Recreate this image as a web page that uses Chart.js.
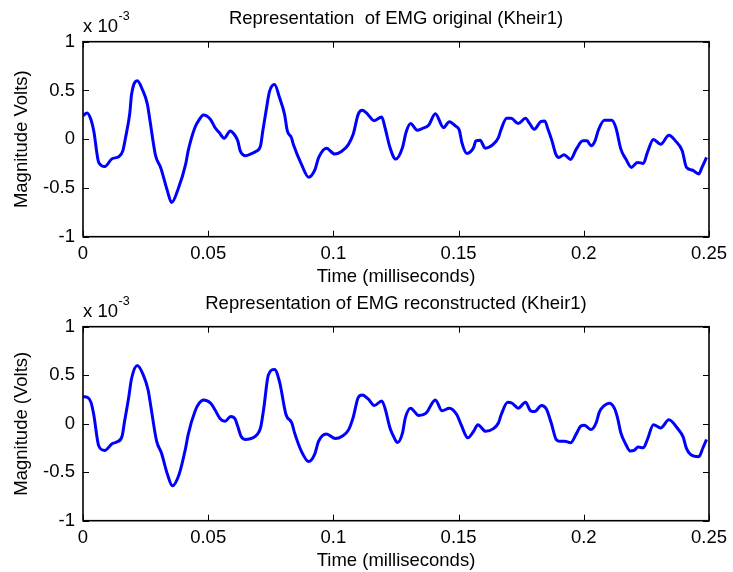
<!DOCTYPE html>
<html>
<head>
<meta charset="utf-8">
<script src="https://cdn.jsdelivr.net/npm/chart.js@4/dist/chart.umd.min.js"></script>
<style>
  body { margin: 0; background: #fff; }
  #wrap { position: relative; width: 733px; height: 572px; overflow: hidden; background: #fff; }
  canvas { position: absolute; left: 0; }
</style>
</head>
<body>
<div id="wrap">
  <canvas id="plotOrig" width="733" height="300" style="top:0"></canvas>
  <canvas id="plotRec" width="733" height="292" style="top:280px"></canvas>
</div>
<script>
// ===============================
//   DATA (values in units of 1e-3 V)
// ===============================
const xTicks = [0, 0.05, 0.1, 0.15, 0.2, 0.25];
const yTicks = [-1, -0.5, 0, 0.5, 1];

const timeOrig = [
  0, 0.0016, 0.0032, 0.0043, 0.0063, 0.0087, 0.0116, 0.0143, 0.0159, 0.017,
  0.0187, 0.0194, 0.0217, 0.0237, 0.0257, 0.0267, 0.029, 0.031, 0.0337, 0.0354,
  0.038, 0.041, 0.042, 0.0447, 0.0464, 0.0481, 0.051, 0.0527, 0.0544, 0.0564,
  0.0588, 0.0604, 0.0618, 0.0628, 0.065, 0.0671, 0.069, 0.0709, 0.0718, 0.0731,
  0.0745, 0.0765, 0.0785, 0.0805, 0.0816, 0.0832, 0.0842, 0.0872, 0.0901, 0.0925,
  0.0941, 0.0972, 0.1005, 0.1032, 0.1059, 0.1079, 0.1099, 0.1115, 0.1132, 0.1163,
  0.1193, 0.1206, 0.1226, 0.1249, 0.1276, 0.129, 0.1308, 0.1335, 0.1354, 0.1381,
  0.1407, 0.144, 0.1463, 0.1487, 0.1503, 0.1513, 0.1533, 0.156, 0.1569, 0.1586,
  0.1606, 0.1639, 0.1659, 0.167, 0.1692, 0.171, 0.1738, 0.1767, 0.1784, 0.1802,
  0.1828, 0.1844, 0.1857, 0.1873, 0.1888, 0.19, 0.1921, 0.1947, 0.197, 0.1996,
  0.2013, 0.2029, 0.2045, 0.2058, 0.2082, 0.2111, 0.2128, 0.2148, 0.2168, 0.219,
  0.2214, 0.2238, 0.2254, 0.2278, 0.2307, 0.234, 0.2366, 0.2393, 0.241, 0.2433,
  0.2459, 0.2472, 0.249
];
const emgOrig = [
  0.24, 0.27, 0.20, 0.085, -0.24, -0.28, -0.20, -0.18, -0.12, 0.017,
  0.27, 0.46, 0.60, 0.51, 0.36, 0.20, -0.17, -0.29, -0.53, -0.65,
  -0.51, -0.255, -0.12, 0.12, 0.20, 0.248, 0.20, 0.12, 0.068, 0.01,
  0.085, 0.05, -0.017, -0.12, -0.17, -0.15, -0.126, -0.068, 0.085, 0.29,
  0.49, 0.56, 0.425, 0.255, 0.085, 0.017, -0.068, -0.255, -0.39, -0.32,
  -0.19, -0.092, -0.153, -0.126, -0.058, 0.05, 0.255, 0.296, 0.27, 0.19,
  0.228, 0.12, -0.085, -0.204, -0.085, 0.068, 0.16, 0.092, 0.109, 0.146,
  0.262, 0.119, 0.18, 0.136, 0.092, -0.034, -0.146, -0.085, -0.017, -0.01,
  -0.092, -0.051, 0.017, 0.102, 0.214, 0.214, 0.16, 0.214, 0.16, 0.102,
  0.18, 0.187, 0.102, -0.017, -0.153, -0.187, -0.16, -0.207, -0.102, -0.017,
  -0.017, -0.068, -0.017, 0.092, 0.194, 0.194, 0.119, -0.102, -0.204, -0.289,
  -0.238, -0.248, -0.136, -0.003, -0.051, 0.041, -0.017, -0.119, -0.289, -0.316,
  -0.357, -0.289, -0.187
];

const timeRec = [
  0, 0.0019, 0.0032, 0.0043, 0.0063, 0.0087, 0.0116, 0.0136, 0.0156, 0.0166,
  0.0183, 0.0194, 0.0217, 0.0241, 0.026, 0.027, 0.0294, 0.0313, 0.0337, 0.0357,
  0.0384, 0.041, 0.042, 0.0447, 0.0464, 0.0481, 0.051, 0.0527, 0.0548, 0.0567,
  0.059, 0.0607, 0.0618, 0.0631, 0.065, 0.0678, 0.0695, 0.0709, 0.0722, 0.074,
  0.0765, 0.0785, 0.0811, 0.0834, 0.0845, 0.0872, 0.0901, 0.0925, 0.0941, 0.0972,
  0.1008, 0.1035, 0.1061, 0.1079, 0.1099, 0.1115, 0.1139, 0.1163, 0.1193, 0.1206,
  0.1226, 0.1243, 0.1256, 0.1276, 0.1287, 0.1308, 0.1341, 0.137, 0.1407, 0.1434,
  0.1463, 0.1493, 0.151, 0.1537, 0.156, 0.1577, 0.1608, 0.1639, 0.1659, 0.167,
  0.1696, 0.1714, 0.1738, 0.1767, 0.1788, 0.1804, 0.1831, 0.185, 0.187, 0.189,
  0.1904, 0.1923, 0.1947, 0.197, 0.1987, 0.2003, 0.2029, 0.2049, 0.2062, 0.2082,
  0.2102, 0.2122, 0.2135, 0.2148, 0.2168, 0.2185, 0.2201, 0.2217, 0.2238, 0.2254,
  0.2278, 0.2307, 0.234, 0.2373, 0.2397, 0.241, 0.2426, 0.2459, 0.2476, 0.249
];
const emgRec = [
  0.279, 0.27, 0.22, 0.092, -0.23, -0.276, -0.207, -0.187, -0.129, 0.024,
  0.279, 0.466, 0.60, 0.50, 0.347, 0.194, -0.18, -0.30, -0.52, -0.64,
  -0.52, -0.248, -0.112, 0.126, 0.211, 0.245, 0.211, 0.143, 0.051, 0.024,
  0.075, 0.051, -0.027, -0.129, -0.163, -0.146, -0.112, -0.044, 0.16, 0.50,
  0.56, 0.432, 0.092, 0.007, -0.095, -0.282, -0.39, -0.316, -0.18, -0.105,
  -0.153, -0.129, -0.061, 0.065, 0.269, 0.296, 0.255, 0.187, 0.235, 0.16,
  -0.044, -0.146, -0.195, -0.095, 0.058, 0.16, 0.085, 0.109, 0.245, 0.133,
  0.16, 0.092, -0.01, -0.146, -0.078, -0.01, -0.078, -0.051, 0.007, 0.092,
  0.221, 0.211, 0.16, 0.221, 0.133, 0.126, 0.187, 0.153, 0.007, -0.163,
  -0.18, -0.18, -0.197, -0.105, -0.027, -0.017, -0.061, 0.007, 0.119, 0.187,
  0.211, 0.16, 0.058, -0.095, -0.214, -0.282, -0.276, -0.241, -0.248, -0.163,
  -0.01, -0.044, 0.041, -0.044, -0.139, -0.255, -0.316, -0.34, -0.248, -0.163
];

// ===============================
//   MATLAB-like box, ticks, title
// ===============================
const FONT = "Liberation Sans, Arial, Helvetica, sans-serif";

const matlabAxes = {
  id: "matlabAxes",
  afterDraw(chart, args, opts) {
    const ctx = chart.ctx;
    const a = chart.chartArea;
    const xs = chart.scales.x, ys = chart.scales.y;
    const tl = 6;
    ctx.save();
    ctx.strokeStyle = "#000";
    ctx.lineWidth = 1;
    ctx.beginPath();
    xTicks.forEach(v => {
      const px = Math.round(xs.getPixelForValue(v)) + 0.5;
      ctx.moveTo(px, a.bottom); ctx.lineTo(px, a.bottom - tl);
      ctx.moveTo(px, a.top); ctx.lineTo(px, a.top + tl);
    });
    yTicks.forEach(v => {
      const py = Math.round(ys.getPixelForValue(v)) + 0.5;
      ctx.moveTo(a.left, py); ctx.lineTo(a.left + tl, py);
      ctx.moveTo(a.right, py); ctx.lineTo(a.right - tl, py);
    });
    ctx.stroke();
    ctx.lineWidth = 1.6;
    ctx.strokeRect(a.left, a.top, a.right - a.left, a.bottom - a.top);

    // title
    ctx.fillStyle = "#000";
    ctx.font = "18.5px " + FONT;
    ctx.textAlign = "center";
    ctx.textBaseline = "alphabetic";
    ctx.fillText(opts.title, (a.left + a.right) / 2, a.top - 18);

    // exponent label
    ctx.textAlign = "left";
    ctx.fillText("x 10", a.left, a.top - 10);
    const w = ctx.measureText("x 10").width;
    ctx.font = "12.5px " + FONT;
    ctx.fillText("-3", a.left + w + 0.5, a.top - 22);
    ctx.restore();
  }
};

function criarGrafico(id, tempos, valores, titulo, yTitulo, cfg) {
  const pontos = tempos.map((t, i) => ({ x: t, y: valores[i] }));
  return new Chart(document.getElementById(id), {
    type: "line",
    data: {
      datasets: [{
        data: pontos,
        borderColor: "#0000ff",
        borderWidth: 3,
        pointRadius: 0,
        fill: false,
        cubicInterpolationMode: "monotone"
      }]
    },
    options: {
      responsive: false,
      animation: false,
      devicePixelRatio: 1,
      layout: { padding: { left: 0, right: 21.5, top: cfg.top, bottom: 0 } },
      plugins: {
        legend: { display: false },
        tooltip: { enabled: false },
        matlabAxes: { title: titulo }
      },
      scales: {
        x: {
          type: "linear",
          min: 0, max: 0.25,
          grid: { display: false, drawTicks: false },
          border: { display: false },
          afterBuildTicks: s => { s.ticks = xTicks.map(v => ({ value: v })); },
          afterFit: s => { s.height = cfg.xHeight; },
          ticks: {
            padding: 6,
            color: "#000",
            font: { family: FONT, size: 18.5 },
            maxRotation: 0,
            callback: v => String(+v.toFixed(2))
          },
          title: {
            display: true,
            text: "Time (milliseconds)",
            color: "#000",
            font: { family: FONT, size: 18.5 },
            padding: { top: 0, bottom: cfg.xTitlePad }
          }
        },
        y: {
          min: -1, max: 1,
          grid: { display: false, drawTicks: false },
          border: { display: false },
          afterBuildTicks: s => { s.ticks = yTicks.map(v => ({ value: v })); },
          afterFit: s => { s.width = 83; },
          ticks: {
            padding: 8,
            color: "#000",
            font: { family: FONT, size: 18.5 },
            callback: v => String(v)
          },
          title: {
            display: true,
            text: yTitulo,
            color: "#000",
            font: { family: FONT, size: 18.5 },
            padding: { top: 11, bottom: 0 }
          }
        }
      }
    },
    plugins: [matlabAxes]
  });
}

criarGrafico("plotOrig", timeOrig, emgOrig,
  "Representation  of EMG original (Kheir1)", "Magnitude Volts)",
  { top: 41.7, xHeight: 63.3, xTitlePad: 12.2 });

criarGrafico("plotRec", timeRec, emgRec,
  "Representation of EMG reconstructed (Kheir1)", "Magnitude (Volts)",
  { top: 46.7, xHeight: 51.3, xTitlePad: 0.2 });
</script>
</body>
</html>
